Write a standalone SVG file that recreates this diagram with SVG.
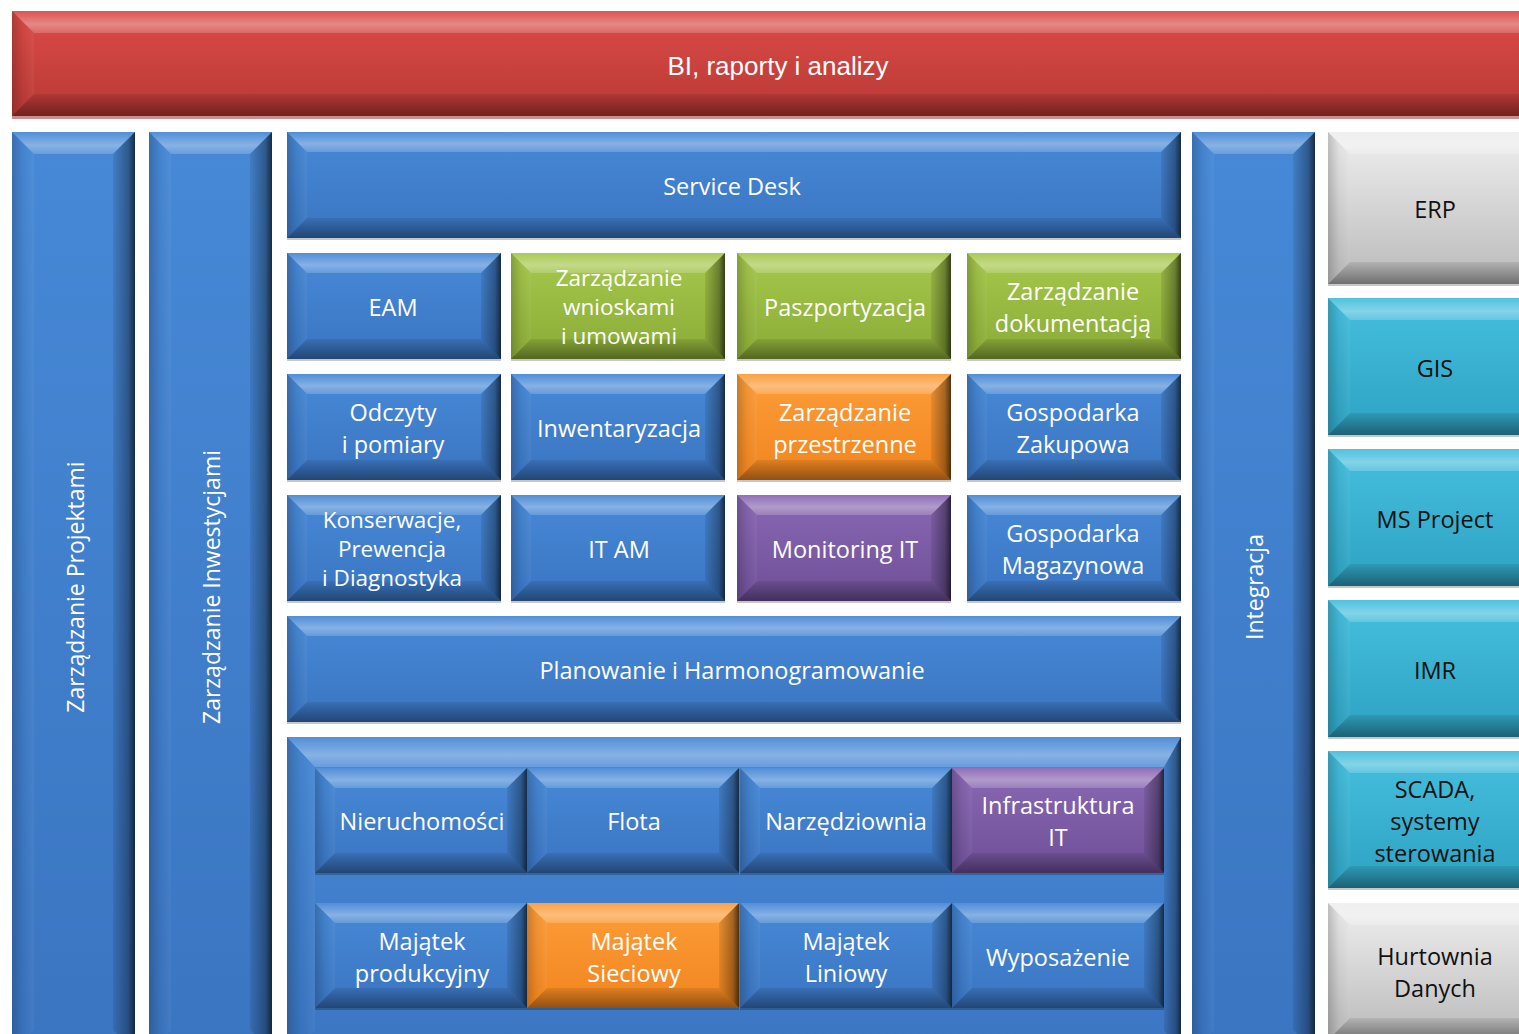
<svg xmlns="http://www.w3.org/2000/svg" xmlns:xlink="http://www.w3.org/1999/xlink" width="1519" height="1034" viewBox="0 0 1519 1034">
<style>
.t{font-family:"Open Sans",Lato,"Liberation Sans",sans-serif;font-size:23.5px;text-anchor:middle;fill:#fff}
.k{fill:#111}
.v{font-size:23px}
.s{font-size:22.5px}
.bi{font-family:"Liberation Sans",Arial,sans-serif;font-size:26px;text-anchor:middle;fill:#fff}
.ot{fill:url(#ovT)}.ol{fill:url(#ovL)}.or{fill:url(#ovR)}.ob{fill:url(#ovB)}
.rf{fill:#000;fill-opacity:.22}
</style>
<defs>
<linearGradient id="gBlue" x1="0" y1="0" x2="0" y2="1"><stop offset="0" stop-color="#4789d7"/><stop offset="1" stop-color="#3a75c1"/></linearGradient>
<linearGradient id="gRed" x1="0" y1="0" x2="0" y2="1"><stop offset="0" stop-color="#dc4b47"/><stop offset="1" stop-color="#b83935"/></linearGradient>
<linearGradient id="gGreen" x1="0" y1="0" x2="0" y2="1"><stop offset="0" stop-color="#a6c84c"/><stop offset="1" stop-color="#8aab37"/></linearGradient>
<linearGradient id="gOrange" x1="0" y1="0" x2="0" y2="1"><stop offset="0" stop-color="#fd9d3a"/><stop offset="1" stop-color="#f1851e"/></linearGradient>
<linearGradient id="gPurple" x1="0" y1="0" x2="0" y2="1"><stop offset="0" stop-color="#8a68b4"/><stop offset="1" stop-color="#6e5097"/></linearGradient>
<linearGradient id="gTeal" x1="0" y1="0" x2="0" y2="1"><stop offset="0" stop-color="#45bfde"/><stop offset="1" stop-color="#2ea2c2"/></linearGradient>
<linearGradient id="gGrey" x1="0" y1="0" x2="0" y2="1"><stop offset="0" stop-color="#efefef"/><stop offset="1" stop-color="#bababa"/></linearGradient>
<linearGradient id="ovT" x1="0" y1="0" x2="0" y2="1"><stop offset="0" stop-color="#fff" stop-opacity=".05"/><stop offset=".6" stop-color="#fff" stop-opacity=".35"/><stop offset="1" stop-color="#fff" stop-opacity=".18"/></linearGradient>
<linearGradient id="ovL" x1="0" y1="0" x2="1" y2="0"><stop offset="0" stop-color="#000" stop-opacity=".2"/><stop offset=".5" stop-color="#000" stop-opacity=".04"/><stop offset="1" stop-color="#fff" stop-opacity=".05"/></linearGradient>
<linearGradient id="ovR" x1="0" y1="0" x2="1" y2="0"><stop offset="0" stop-color="#000" stop-opacity=".08"/><stop offset=".7" stop-color="#000" stop-opacity=".35"/><stop offset="1" stop-color="#000" stop-opacity=".68"/></linearGradient>
<linearGradient id="ovB" x1="0" y1="0" x2="0" y2="1"><stop offset="0" stop-color="#000" stop-opacity=".08"/><stop offset="1" stop-color="#000" stop-opacity=".4"/></linearGradient>
<g id="bv214">
<polygon class="ot" points="0,0 214,0 194,20 20,20"/><polygon class="ol" points="0,0 20,20 20,86 0,106"/><polygon class="or" points="214,0 214,106 194,86 194,20"/><polygon class="ob" points="0,106 214,106 194,86 20,86"/><rect class="rf" x="0" y="106" width="214" height="2"/>
</g>
<g id="bv894">
<polygon class="ot" points="0,0 894,0 874,20 20,20"/><polygon class="ol" points="0,0 20,20 20,86 0,106"/><polygon class="or" points="894,0 894,106 874,86 874,20"/><polygon class="ob" points="0,106 894,106 874,86 20,86"/><rect class="rf" x="0" y="106" width="894" height="2"/>
</g>
<g id="bv212">
<polygon class="ot" points="0,0 212,0 192,20 20,20"/><polygon class="ol" points="0,0 20,20 20,85 0,105"/><polygon class="or" points="212,0 212,105 192,85 192,20"/><polygon class="ob" points="0,105 212,105 192,85 20,85"/><rect class="rf" x="0" y="105" width="212" height="2"/>
</g>
<g id="bvCol">
<polygon class="ot" points="0,0 123,0 101,22 22,22"/><polygon class="ol" points="0,0 22,22 22,898 0,920"/><polygon class="or" points="123,0 123,920 101,898 101,22"/>
</g>
<g id="bvR152">
<polygon class="ot" points="0,0 215,0 193,22 22,22"/><polygon class="ol" points="0,0 22,22 22,130 0,152"/><polygon class="ob" points="0,152 215,152 193,130 22,130"/><rect class="rf" x="0" y="152" width="215" height="2"/>
</g>
<g id="bvR137">
<polygon class="ot" points="0,0 215,0 193,22 22,22"/><polygon class="ol" points="0,0 22,22 22,115 0,137"/><polygon class="ob" points="0,137 215,137 193,115 22,115"/><rect class="rf" x="0" y="137" width="215" height="2"/>
</g>
</defs>
<rect width="1519" height="1034" fill="#fff"/>

<g id="bi">
<rect x="12" y="11" width="1530" height="105" fill="url(#gRed)"/>
<polygon class="ot" points="12,11 1542,11 1520,33 34,33"/><polygon class="ol" points="12,11 34,33 34,94 12,116"/><polygon class="ob" points="12,116 1542,116 1520,94 34,94"/>
<rect x="12" y="116" width="1530" height="3" fill="#a03030" fill-opacity=".55"/>
<text class="bi" x="778" y="75">BI, raporty i analizy</text>
</g>

<g id="zarzadzanie-projektami">
<rect x="12" y="132" width="123" height="920" fill="url(#gBlue)"/><use href="#bvCol" x="12" y="132"/>
<text class="t v" transform="translate(84,587) rotate(-90)">Zarządzanie Projektami</text>
</g>
<g id="zarzadzanie-inwestycjami">
<rect x="149" y="132" width="123" height="920" fill="url(#gBlue)"/><use href="#bvCol" x="149" y="132"/>
<text class="t v" transform="translate(220,587) rotate(-90)">Zarządzanie Inwestycjami</text>
</g>
<g id="integracja">
<rect x="1192" y="132" width="123" height="920" fill="url(#gBlue)"/><use href="#bvCol" x="1192" y="132"/>
<text class="t v" transform="translate(1263,587) rotate(-90)">Integracja</text>
</g>

<g id="service-desk">
<rect x="287" y="132" width="894" height="106" fill="url(#gBlue)"/><use href="#bv894" x="287" y="132"/>
<text class="t" x="732" y="195">Service Desk</text>
</g>

<g id="eam"><rect x="287" y="253" width="214" height="106" fill="url(#gBlue)"/><use href="#bv214" x="287" y="253"/><text class="t" x="393" y="316">EAM</text></g>
<g id="zarzadzanie-wnioskami"><rect x="511" y="253" width="214" height="106" fill="url(#gGreen)"/><use href="#bv214" x="511" y="253"/><text class="t s" x="619" y="286">Zarządzanie</text><text class="t s" x="619" y="315">wnioskami</text><text class="t s" x="619" y="344">i umowami</text></g>
<g id="paszportyzacja"><rect x="737" y="253" width="214" height="106" fill="url(#gGreen)"/><use href="#bv214" x="737" y="253"/><text class="t" x="845" y="316">Paszportyzacja</text></g>
<g id="zarzadzanie-dokumentacja"><rect x="967" y="253" width="214" height="106" fill="url(#gGreen)"/><use href="#bv214" x="967" y="253"/><text class="t" x="1073" y="300">Zarządzanie</text><text class="t" x="1073" y="332">dokumentacją</text></g>

<g id="odczyty"><rect x="287" y="374" width="214" height="106" fill="url(#gBlue)"/><use href="#bv214" x="287" y="374"/><text class="t" x="393" y="421">Odczyty</text><text class="t" x="393" y="453">i pomiary</text></g>
<g id="inwentaryzacja"><rect x="511" y="374" width="214" height="106" fill="url(#gBlue)"/><use href="#bv214" x="511" y="374"/><text class="t" x="619" y="437">Inwentaryzacja</text></g>
<g id="zarzadzanie-przestrzenne"><rect x="737" y="374" width="214" height="106" fill="url(#gOrange)"/><use href="#bv214" x="737" y="374"/><text class="t" x="845" y="421">Zarządzanie</text><text class="t" x="845" y="453">przestrzenne</text></g>
<g id="gospodarka-zakupowa"><rect x="967" y="374" width="214" height="106" fill="url(#gBlue)"/><use href="#bv214" x="967" y="374"/><text class="t" x="1073" y="421">Gospodarka</text><text class="t" x="1073" y="453">Zakupowa</text></g>

<g id="konserwacje"><rect x="287" y="495" width="214" height="106" fill="url(#gBlue)"/><use href="#bv214" x="287" y="495"/><text class="t s" x="392" y="528">Konserwacje,</text><text class="t s" x="392" y="557">Prewencja</text><text class="t s" x="392" y="586">i Diagnostyka</text></g>
<g id="it-am"><rect x="511" y="495" width="214" height="106" fill="url(#gBlue)"/><use href="#bv214" x="511" y="495"/><text class="t" x="619" y="558">IT AM</text></g>
<g id="monitoring-it"><rect x="737" y="495" width="214" height="106" fill="url(#gPurple)"/><use href="#bv214" x="737" y="495"/><text class="t" x="845" y="558">Monitoring IT</text></g>
<g id="gospodarka-magazynowa"><rect x="967" y="495" width="214" height="106" fill="url(#gBlue)"/><use href="#bv214" x="967" y="495"/><text class="t" x="1073" y="542">Gospodarka</text><text class="t" x="1073" y="574">Magazynowa</text></g>

<g id="planowanie">
<rect x="287" y="616" width="894" height="106" fill="url(#gBlue)"/><use href="#bv894" x="287" y="616"/>
<text class="t" x="732" y="679">Planowanie i Harmonogramowanie</text>
</g>

<g id="majatek-container">
<rect x="287" y="737" width="894" height="321" fill="url(#gBlue)"/>
<polygon class="ot" points="287,737 1181,737 1164,767 315,767"/><polygon class="ol" points="287,737 315,767 315,1030 287,1058"/><polygon class="or" points="1181,737 1181,1058 1164,1030 1164,767"/>
</g>

<g id="nieruchomosci"><rect x="315" y="768" width="212" height="105" fill="url(#gBlue)"/><use href="#bv212" x="315" y="768"/><text class="t" x="422" y="830">Nieruchomości</text></g>
<g id="flota"><rect x="527" y="768" width="212" height="105" fill="url(#gBlue)"/><use href="#bv212" x="527" y="768"/><text class="t" x="634" y="830">Flota</text></g>
<g id="narzedziownia"><rect x="740" y="768" width="212" height="105" fill="url(#gBlue)"/><use href="#bv212" x="740" y="768"/><text class="t" x="846" y="830">Narzędziownia</text></g>
<g id="infrastruktura-it"><rect x="952" y="768" width="212" height="105" fill="url(#gPurple)"/><use href="#bv212" x="952" y="768"/><text class="t" x="1058" y="814">Infrastruktura</text><text class="t" x="1058" y="846">IT</text></g>

<g id="majatek-produkcyjny"><rect x="315" y="903" width="212" height="105" fill="url(#gBlue)"/><use href="#bv212" x="315" y="903"/><text class="t" x="422" y="950">Majątek</text><text class="t" x="422" y="982">produkcyjny</text></g>
<g id="majatek-sieciowy"><rect x="527" y="903" width="212" height="105" fill="url(#gOrange)"/><use href="#bv212" x="527" y="903"/><text class="t" x="634" y="950">Majątek</text><text class="t" x="634" y="982">Sieciowy</text></g>
<g id="majatek-liniowy"><rect x="740" y="903" width="212" height="105" fill="url(#gBlue)"/><use href="#bv212" x="740" y="903"/><text class="t" x="846" y="950">Majątek</text><text class="t" x="846" y="982">Liniowy</text></g>
<g id="wyposazenie"><rect x="952" y="903" width="212" height="105" fill="url(#gBlue)"/><use href="#bv212" x="952" y="903"/><text class="t" x="1058" y="966">Wyposażenie</text></g>

<g id="erp"><rect x="1328" y="132" width="215" height="152" fill="url(#gGrey)"/><use href="#bvR152" x="1328" y="132"/><text class="t k" x="1435" y="218">ERP</text></g>
<g id="gis"><rect x="1328" y="298" width="215" height="137" fill="url(#gTeal)"/><use href="#bvR137" x="1328" y="298"/><text class="t k" x="1435" y="377">GIS</text></g>
<g id="ms-project"><rect x="1328" y="449" width="215" height="137" fill="url(#gTeal)"/><use href="#bvR137" x="1328" y="449"/><text class="t k" x="1435" y="528">MS Project</text></g>
<g id="imr"><rect x="1328" y="600" width="215" height="137" fill="url(#gTeal)"/><use href="#bvR137" x="1328" y="600"/><text class="t k" x="1435" y="679">IMR</text></g>
<g id="scada"><rect x="1328" y="751" width="215" height="137" fill="url(#gTeal)"/><use href="#bvR137" x="1328" y="751"/><text class="t k" x="1435" y="798">SCADA,</text><text class="t k" x="1435" y="830">systemy</text><text class="t k" x="1435" y="862">sterowania</text></g>
<g id="hurtownia"><rect x="1328" y="903" width="215" height="137" fill="url(#gGrey)"/><use href="#bvR137" x="1328" y="903"/><text class="t k" x="1435" y="965">Hurtownia</text><text class="t k" x="1435" y="997">Danych</text></g>
</svg>
